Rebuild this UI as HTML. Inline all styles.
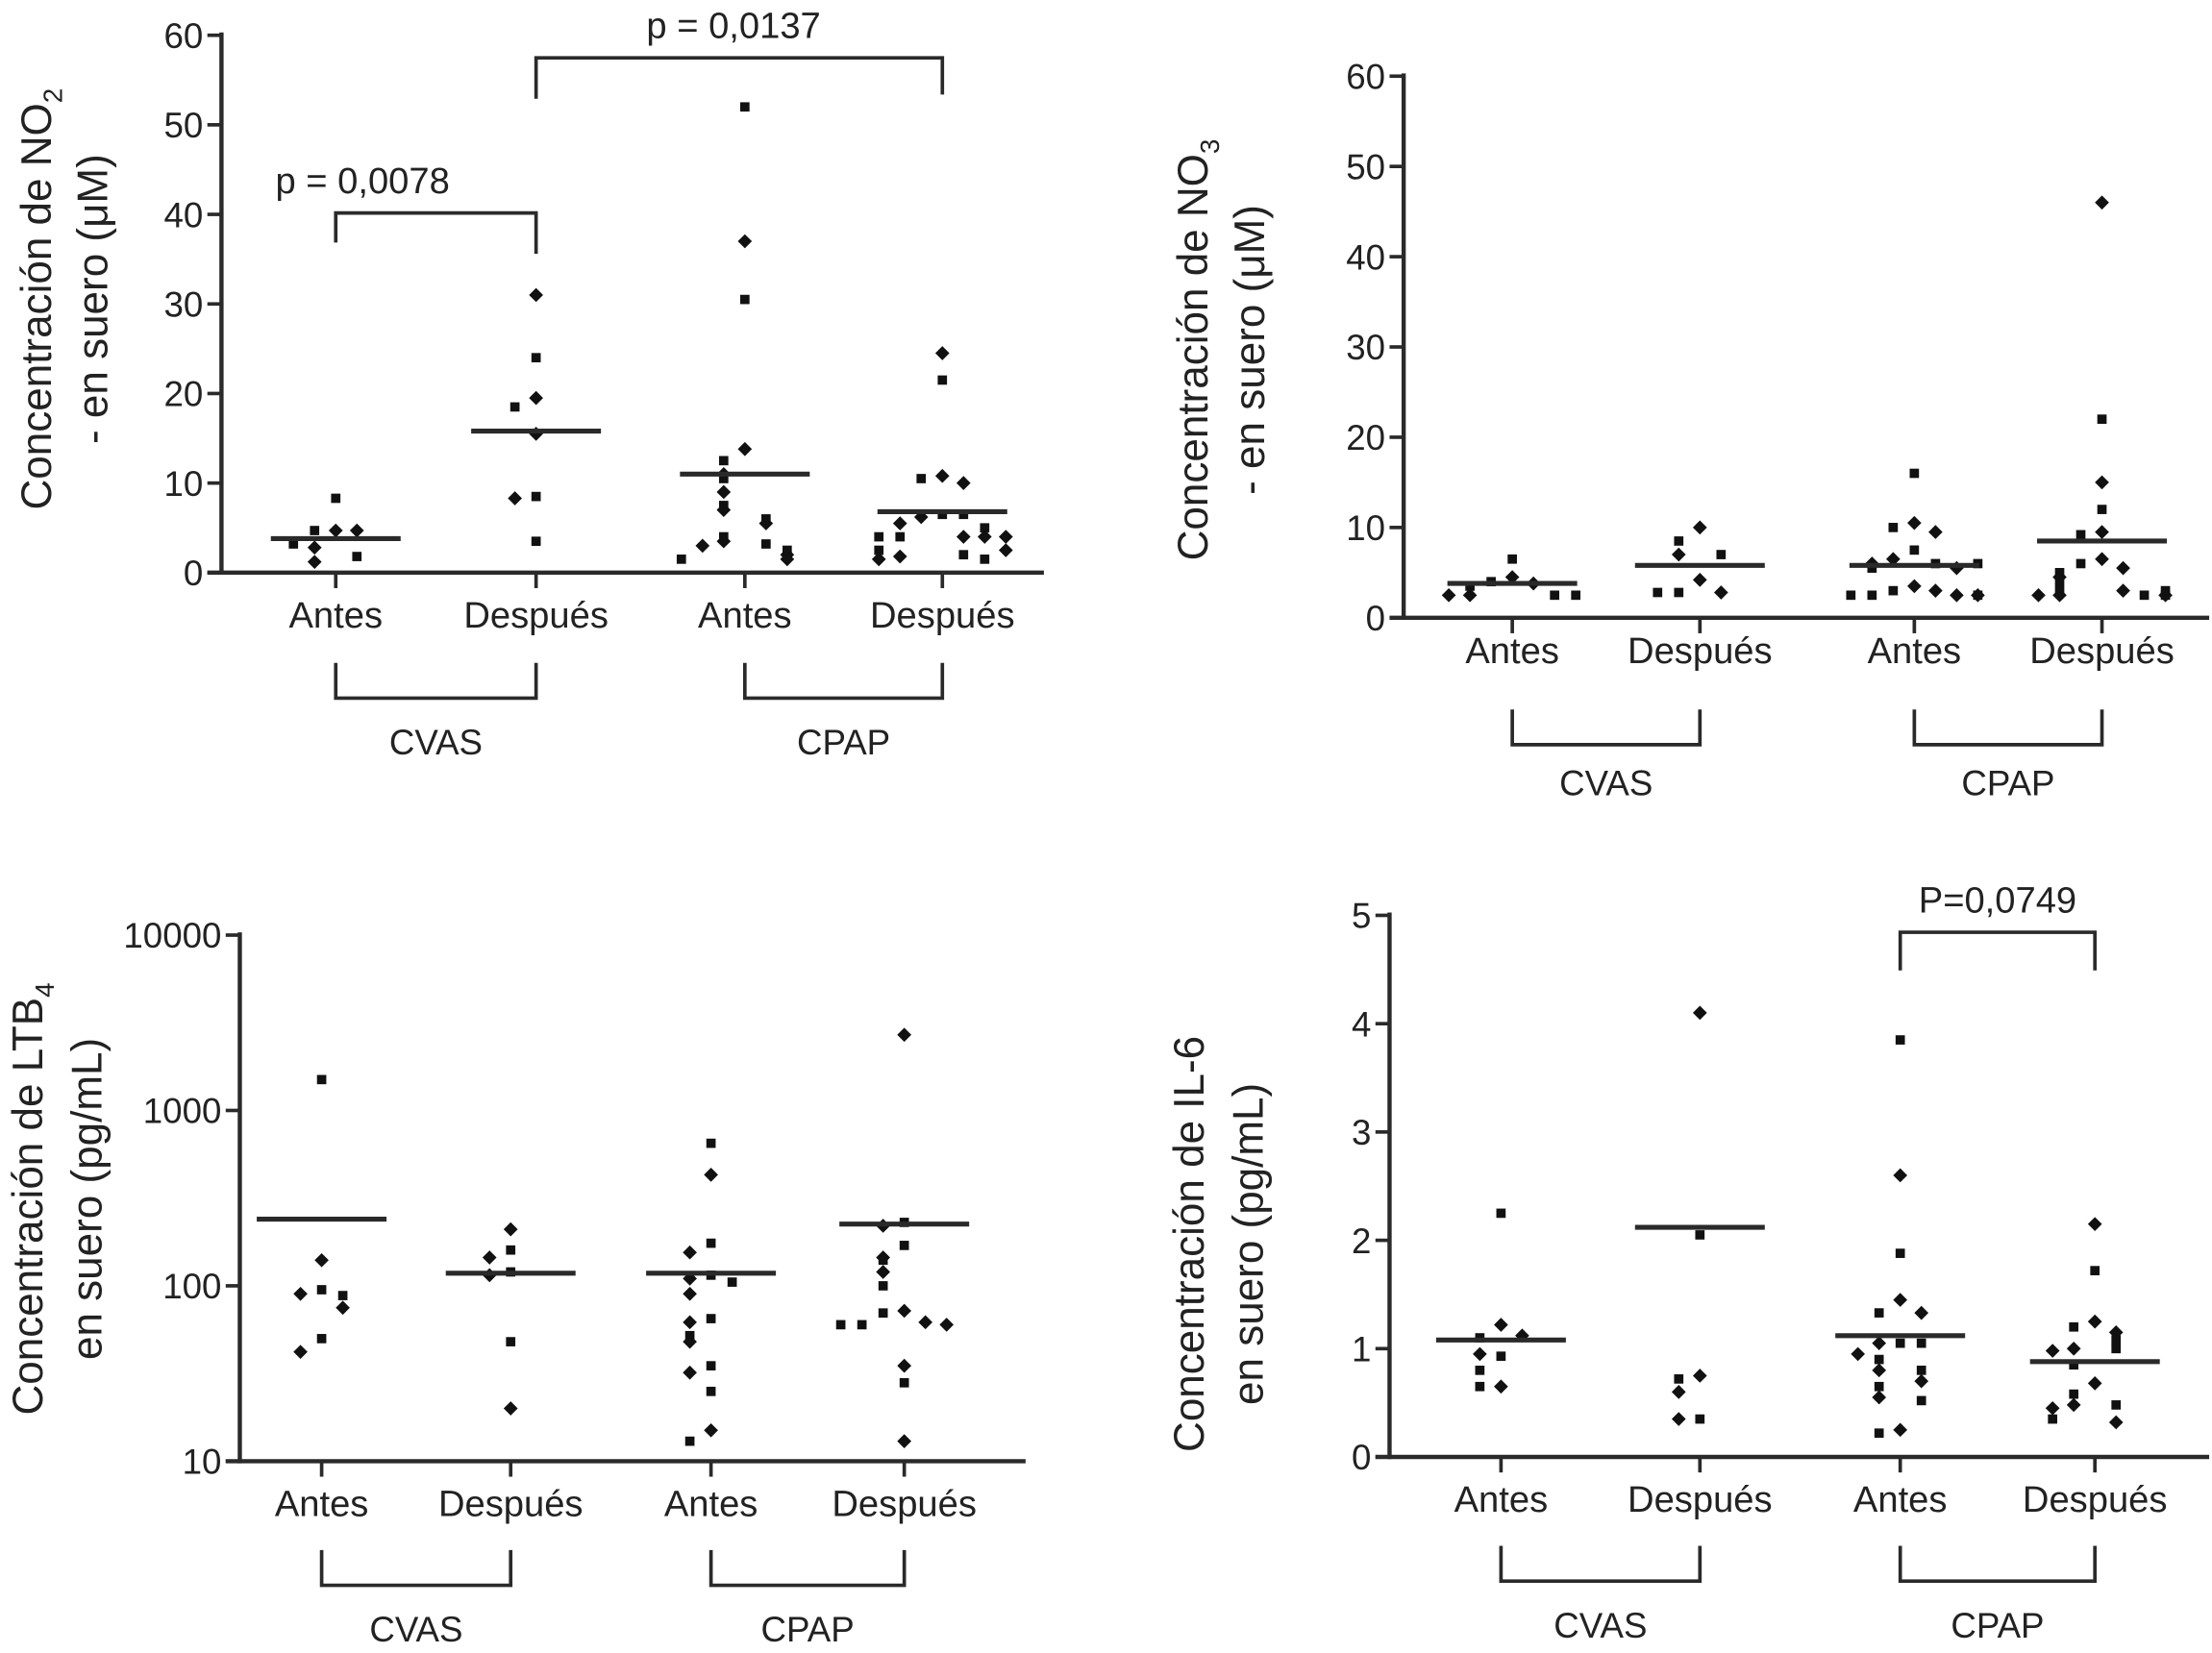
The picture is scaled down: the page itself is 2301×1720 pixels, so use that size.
<!DOCTYPE html>
<html><head><meta charset="utf-8"><style>
html,body{margin:0;padding:0;background:#fff;}
svg{display:block;}
text{font-family:"Liberation Sans",sans-serif;fill:#222;}
</style></head><body>
<svg id="fig" width="2301" height="1720" viewBox="0 0 1568 1172" preserveAspectRatio="none" xmlns="http://www.w3.org/2000/svg"></svg>
<script>
// ---------- data ----------
const categories = ["Antes","Después","Antes","Después"];
const groupLabels = ["CVAS","CPAP"];

const no2Ticks = [0,10,20,30,40,50,60];
const no2CvasAntes = [8.3,4.7,4.7,4.7,3.2,2.8,1.8,1.2];
const no2CvasDespues = [31,24,19.5,18.5,15.5,8.5,8.3,3.5];
const no2CpapAntes = [52,37,30.5,13.8,12.5,11,10.5,9,7.5,7,6,5.5,4,3.5,3.2,3,2.5,2,1.8,1.5,1.5];
const no2CpapDespues = [24.5,21.5,10.8,10.5,10,6.5,6.2,6.5,5.5,5,4,4,4,4,4,2.5,2.5,2,1.8,1.5,1.5];
const no2Medians = [3.8,15.8,11,6.8];

const no3Ticks = [0,10,20,30,40,50,60];
const no3CvasAntes = [6.5,4.5,4,3.8,3.5,2.5,2.5,2.5,2.5];
const no3CvasDespues = [10,8.5,7,7,4.2,2.8,2.8,2.8];
const no3CpapAntes = [16,10.5,10,9.5,7.5,6.5,6,6,5.5,5.5,6,3.5,3,3,2.5,2.5,2.5,2.5,2.5];
const no3CpapDespues = [46,22,15,12,9.5,9.2,6.5,6,5.5,5,4.5,4,3,3,2.5,2.5,2.5,2.5,2.5,3];
const no3Medians = [3.8,5.8,5.8,8.5];

const ltbTicks = [10,100,1000,10000];
const ltbCvasAntes = [1500,140,95,90,88,75,50,42];
const ltbCvasDespues = [210,160,145,120,115,48,20];
const ltbCpapAntes = [650,430,175,155,115,110,105,90,65,62,52,48,35,32,25,15,13];
const ltbCpapDespues = [2700,230,220,170,145,140,120,100,72,70,62,60,60,60,35,28,13];
const ltbMedians = [240,118,118,225];

const il6Ticks = [0,1,2,3,4,5];
const il6CvasAntes = [2.25,1.22,1.1,1.12,0.93,0.95,0.8,0.65,0.65];
const il6CvasDespues = [4.1,2.05,0.75,0.72,0.6,0.35,0.35];
const il6CpapAntes = [3.85,2.6,1.88,1.45,1.33,1.33,1.05,1.05,1.05,0.95,0.9,0.8,0.8,0.7,0.65,0.55,0.52,0.25,0.22];
const il6CpapDespues = [2.15,1.72,1.25,1.2,1.15,1.08,1.0,1.0,0.98,0.85,0.68,0.58,0.48,0.48,0.45,0.35,0.32];
const il6Medians = [1.08,2.12,1.12,0.88];

// ---------- drawing ----------
const NS="http://www.w3.org/2000/svg";
const svg=document.getElementById('fig');
function el(tag,attrs,parent){const e=document.createElementNS(NS,tag);for(const k in attrs)e.setAttribute(k,attrs[k]);(parent||svg).appendChild(e);return e;}
const STK="#2a2a2a";

function panel(cfg){
  const g=el('g',{});
  
  
  const yS=cfg.log
    ? v=>cfg.y0+(Math.log10(v)-Math.log10(cfg.min))/(Math.log10(cfg.max)-Math.log10(cfg.min))*(cfg.y1-cfg.y0)
    : v=>cfg.y0+(v-cfg.min)/(cfg.max-cfg.min)*(cfg.y1-cfg.y0);
  const xS=i=>cfg.cx[i];
  const ya=el('line',{x1:cfg.ax,y1:cfg.y1-2,x2:cfg.ax,y2:cfg.y0+1.5,stroke:STK,'stroke-width':3},g);
  
  const xa=el('line',{x1:cfg.ax-10,y1:cfg.y0,x2:cfg.xEnd,y2:cfg.y0,stroke:STK,'stroke-width':3},g);
  
  cfg.ticks.forEach(t=>{
    const y=yS(t);
    el('line',{x1:cfg.ax-10,y1:y,x2:cfg.ax,y2:y,stroke:STK,'stroke-width':2.5},g);
    const tx=el('text',{x:cfg.ax-13,y:y+9,'text-anchor':'end','font-size':cfg.tickFs||25},g);
    tx.textContent=String(t);
    
  });
  categories.forEach((c,i)=>{
    const x=xS(i);
    el('line',{x1:x,y1:cfg.y0,x2:x,y2:cfg.y0+11,stroke:STK,'stroke-width':2.5},g);
    const t=el('text',{x:x,y:cfg.y0+(cfg.labDy||39),'text-anchor':'middle','font-size':26},g);
    t.textContent=c;
    
  });
  [[0,1],[2,3]].forEach((pr,gi)=>{
    const x1=xS(pr[0]),x2=xS(pr[1]);const by=cfg.y0+cfg.gb;
    const p=el('path',{d:`M${x1} ${by-25}V${by}H${x2}V${by-25}`,fill:'none',stroke:STK,'stroke-width':2.5},g);
    
    const t=el('text',{x:(x1+x2)/2,y:by+(cfg.glDy||40),'text-anchor':'middle','font-size':25},g);
    t.textContent=groupLabels[gi];
    
  });
  cfg.series.forEach((vals,si)=>{
    const placed=[];
    const offs=[0,-15,15,-30,30,-45,45];
    vals.forEach((v,j)=>{
      const y=yS(v);
      let n=0;placed.forEach(py=>{if(Math.abs(py-y)<10)n++;});
      placed.push(y);
      const x=xS(si)+offs[Math.min(n,offs.length-1)];
      let m;
      if((j+si)%2===0) m=el('rect',{x:x-3.3,y:y-3.3,width:6.6,height:6.6,fill:'#111'},g);
      else m=el('path',{d:`M${x} ${y-5}L${x+5} ${y}L${x} ${y+5}L${x-5} ${y}Z`,fill:'#111'},g);
      
    });
    const my=yS(cfg.medians[si]);
    const ml=el('line',{x1:xS(si)-46,y1:my,x2:xS(si)+46,y2:my,stroke:STK,'stroke-width':3.5},g);
    
  });
  const tt=el('text',{transform:`translate(${cfg.tx1},${cfg.ty}) rotate(-90)`,'text-anchor':'middle','font-size':30},g);
  tt.innerHTML=cfg.title1;
  
  const t2=el('text',{transform:`translate(${cfg.tx2},${cfg.ty}) rotate(-90)`,'text-anchor':'middle','font-size':30},g);
  t2.textContent=cfg.title2;
  
  (cfg.sig||[]).forEach(s=>{
    const x1=xS(s.a),x2=xS(s.b);
    const p=el('path',{d:`M${x1} ${s.y+s.l1}V${s.y}H${x2}V${s.y+s.l2}`,fill:'none',stroke:STK,'stroke-width':2.5},g);
    
    const t=el('text',{x:(x1+x2)/2+(s.dx||0),y:s.y-14,'text-anchor':'middle','font-size':26},g);
    t.textContent=s.label;
    
  });
}

panel({name:'no2-panel',ax:157,xEnd:740,y0:406,y1:25,min:0,max:60,ticks:no2Ticks,cx:[238,380,528,668],gb:89,
  series:[no2CvasAntes,no2CvasDespues,no2CpapAntes,no2CpapDespues],medians:no2Medians,
  tx1:36,tx2:76,ty:212,title1:'Concentración de NO<tspan font-size="19" dy="8">2</tspan>',title2:'- en suero (μM)',
  sig:[{a:0,b:1,y:151,l1:21,l2:29,label:'p = 0,0078',dx:-52},{a:1,b:3,y:41,l1:29,l2:26,label:'p = 0,0137',dx:-4}]});

panel({name:'no3-panel',ax:995,xEnd:1566,y0:438,y1:54,min:0,max:60,ticks:no3Ticks,cx:[1072,1205,1357,1490],gb:90,labDy:32,glDy:36,
  series:[no3CvasAntes,no3CvasDespues,no3CpapAntes,no3CpapDespues],medians:no3Medians,
  tx1:856,tx2:896,ty:248,title1:'Concentración de NO<tspan font-size="19" dy="8">3</tspan>',title2:'- en suero (μM)'});

panel({name:'ltb4-panel',log:true,ax:170,xEnd:727,y0:1036,y1:663,min:10,max:10000,ticks:ltbTicks,cx:[228,362,504,641],gb:88,
  series:[ltbCvasAntes,ltbCvasDespues,ltbCpapAntes,ltbCpapDespues],medians:ltbMedians,
  tx1:30,tx2:72,ty:850,title1:'Concentración de LTB<tspan font-size="19" dy="8">4</tspan>',title2:'en suero (pg/mL)'});

panel({name:'il6-panel',ax:985,xEnd:1566,y0:1033,y1:649,min:0,max:5,ticks:il6Ticks,cx:[1064,1205,1347,1485],gb:88,
  series:[il6CvasAntes,il6CvasDespues,il6CpapAntes,il6CpapDespues],medians:il6Medians,
  tx1:853,tx2:895,ty:882,title1:'Concentración de IL-6',title2:'en suero (pg/mL)',
  sig:[{a:2,b:3,y:661,l1:27,l2:27,label:'P=0,0749'}]});
</script>
</body></html>
